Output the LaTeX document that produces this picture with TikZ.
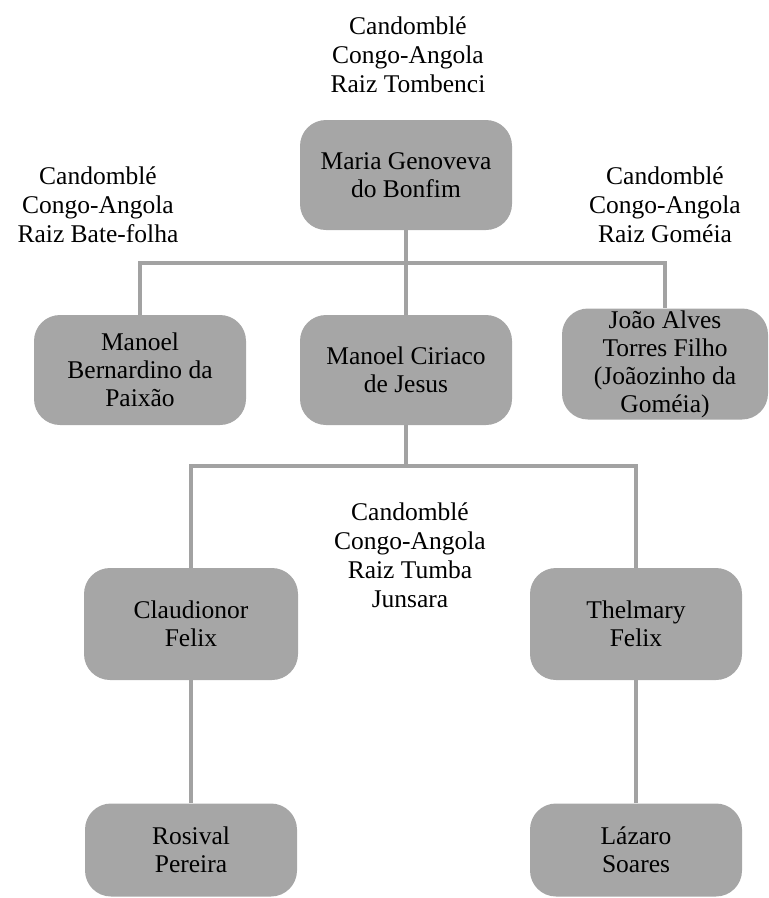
\documentclass[tikz,border=0pt]{standalone}
\usepackage{fontspec}
\setmainfont{Liberation Serif}
\usetikzlibrary{positioning}
\definecolor{boxgray}{HTML}{A6A6A6}
\definecolor{linegray}{HTML}{A2A2A2}

\begin{document}
\begin{tikzpicture}[
  x=1pt, y=-1pt, font=\fontsize{25.5}{28}\selectfont,
  person/.style={fill=boxgray, rounded corners=26pt, minimum width=212pt, minimum height=110pt,
                 align=center, inner sep=0pt},
  lineage/.style={align=center, inner sep=0pt, font=\fontsize{25.5}{29}\selectfont},
  link/.style={draw=linegray, line width=4pt}]

\useasboundingbox (0,0) rectangle (769,898);

\node (tombenci) [lineage] at (408,55) {Candomblé\\Congo-Angola\\Raiz Tombenci};
\node (batefolha) [lineage] at (98,205) {Candomblé\\Congo-Angola\\Raiz Bate-folha};
\node (gomeia) [lineage] at (665,205) {Candomblé\\Congo-Angola\\Raiz Goméia};
\node (tumba) [lineage] at (410,555) {Candomblé\\Congo-Angola\\Raiz Tumba\\Junsara};

\node (maria) [person] at (406,175) {Maria Genoveva\\do Bonfim};
\node (bern) [person] at (140,370) {Manoel\\Bernardino da\\Paixão};
\node (ciriaco) [person] at (406,370) {Manoel Ciriaco\\de Jesus};
\node (joao) [person, minimum width=206pt, minimum height=111pt] at (665,364)
  {João Alves\\Torres Filho\\(Joãozinho da\\Goméia)};

\node (claud) [person, minimum width=214pt, minimum height=112pt] at (191,624) {Claudionor\\Felix};
\node (thel) [person, minimum height=112pt] at (636,624) {Thelmary\\Felix};
\node (rosival) [person, minimum width=212pt, minimum height=93pt] at (191,850) {Rosival\\Pereira};
\node (lazaro) [person, minimum height=93pt] at (636,850) {Lázaro\\Soares};

\coordinate (bar1) at (406,263);
\coordinate (bar2) at (406,466);

\draw[link] (maria) -- (ciriaco);
\draw[link] (bern) |- (bar1) -| (joao);
\draw[link] (ciriaco) -- (bar2);
\draw[link] (claud) |- (bar2) -| (thel);
\foreach \a/\b in {claud/rosival, thel/lazaro} \draw[link] (\a) -- (\b);
\end{tikzpicture}
\end{document}
